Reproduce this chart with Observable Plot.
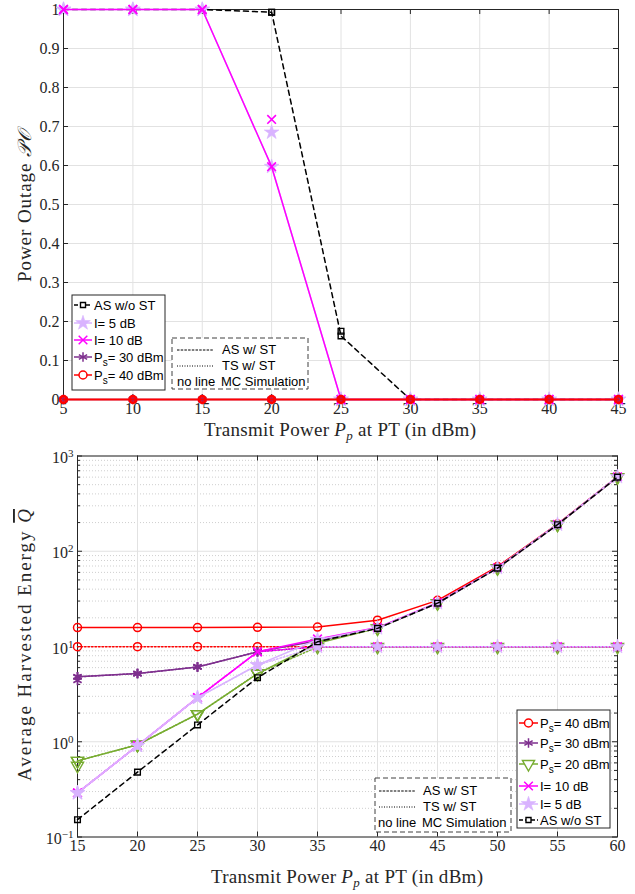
<!DOCTYPE html>
<html><head><meta charset="utf-8">
<script src="https://cdn.jsdelivr.net/npm/d3@7"></script>
<script src="https://cdn.jsdelivr.net/npm/@observablehq/plot@0.6"></script>
<style>body{margin:0;background:#fff} #c svg{display:block}</style>
</head><body><div id="c"></div>
<script>
// ---------- data: top panel (Power Outage) ----------
const xTop = [5,10,15,20,25,30,35,40,45];
const topAsWoST    = [1,1,1,0.993,0.163,0,0,0,0];
const topAsWoSTSim = [1,1,1,0.993,0.175,0,0,0,0];
const topI5        = [1,1,1,0.597,0,0,0,0,0];
const topI5Sim     = [1,1,1,0.685,0,0,0,0,0];
const topI10       = [1,1,1,0.597,0,0,0,0,0];
const topI10Sim    = [1,1,1,0.718,0,0,0,0,0];
const topPs30      = [0,0,0,0,0,0,0,0,0];
const topPs40      = [0,0,0,0,0,0,0,0,0];
const topYTicks  = [0,0.1,0.2,0.3,0.4,0.5,0.6,0.7,0.8,0.9,1];
const topYLabels = ["0","0.1","0.2","0.3","0.4","0.5","0.6","0.7","0.8","0.9","1"];

// ---------- data: bottom panel (Average Harvested Energy) ----------
const xBot = [15,20,25,30,35,40,45,50,55,60];
const botPs40   = [15.8,15.8,15.8,15.9,16.0,18.9,30.5,69,193,606];
const botPs40TS = [9.95,9.95,9.95,9.95,9.95,9.95,9.95,9.95,9.95,9.95];
const botPs30   = [4.8,5.2,6.1,8.8,11.5,15.6,28.6,67,191,602];
const botPs30TS = [4.8,5.2,6.1,8.8,9.95,9.95,9.95,9.95,9.95,9.95];
const botPs30Sim= [4.4,5.2,6.1,8.8,11.5,15.6,28.6,67,191,602];
const botPs20   = [0.63,0.93,1.95,5.2,10.8,15.5,28.5,66.5,190,600];
const botPs20TS = [0.63,0.93,1.95,5.2,9.9,9.9,9.9,9.9,9.9,9.9];
const botPs20Sim= [0.56,0.93,1.95,5.2,10.8,15.5,28.5,66.5,190,600];
const botI10    = [0.29,0.91,2.9,8.8,12.0,15.8,28.8,67,191,604];
const botI10TS  = [0.29,0.91,2.9,8.8,9.95,9.95,9.95,9.95,9.95,9.95];
const botI5     = [0.29,0.91,2.9,6.4,11.8,15.6,28.6,67,191,604];
const botI5TS   = [0.29,0.91,2.9,6.4,9.95,9.95,9.95,9.95,9.95,9.95];
const botAsWoST = [0.152,0.48,1.5,4.7,11.2,15.5,28.5,66.5,190,600];
const botYTicks = [0.1,1,10,100,1000];
const botYExp   = ["\u22121","0","1","2","3"];

// ---------- styles ----------
const C = {ps40:"#ff0000", ps30:"#7e2f8e", ps20:"#77ac30", i10:"#ff00ff", i5:"#d9b3ff", as:"#000000"};
const AX = "#262626", GRID = "#e2e2e2";
const SERIF = "'Liberation Serif', serif", SANS = "'Liberation Sans', Arial, sans-serif";

const triDown = {draw(ctx, size){ const y = -Math.sqrt(size/(Math.sqrt(3)*3)); ctx.moveTo(0,-y*2); ctx.lineTo(-Math.sqrt(3)*y,y); ctx.lineTo(Math.sqrt(3)*y,y); ctx.closePath(); }};

const sym = {
  as:  {symbol:"square", r:3.2, fill:"none", stroke:C.as, strokeWidth:1.4},
  i5:  {symbol:"star", r:4.6, fill:C.i5, stroke:C.i5, strokeWidth:0.6},
  i10: {symbol:"times", r:4, fill:"none", stroke:C.i10, strokeWidth:1.6},
  ps30:{symbol:"asterisk", r:4.5, fill:"none", stroke:C.ps30, strokeWidth:1.8},
  ps40:{symbol:"circle", r:4, fill:"none", stroke:C.ps40, strokeWidth:1.5},
  ps40top:{symbol:"circle", r:3.3, fill:"none", stroke:C.ps40, strokeWidth:2.8},
  ps20:{symbol:triDown, r:4.5, fill:"none", stroke:C.ps20, strokeWidth:1.4}
};

function series(xs, ys, color, dash, mk, width=1.5) {
  const out = [];
  if (color) out.push(Plot.line(xs, {x: d=>d, y: (d,i)=>ys[i], stroke: color, strokeWidth: width, strokeDasharray: dash}));
  if (mk) out.push(Plot.dot(xs, {x: d=>d, y: (d,i)=>ys[i], ...mk}));
  return out;
}

// ---------- top chart ----------
const tW = 635, tH = 440;
const tk = 5;
const xLenT = (45-5)/(tW-63-17)*tk, yLenT = 1/(tH-9-41)*tk;
const topPlot = Plot.plot({
  width: tW, height: tH, marginTop: 9, marginBottom: 41, marginLeft: 63, marginRight: 17,
  x: {type:"linear", domain:[5,45], axis: null},
  y: {type:"linear", domain:[0,1], axis: null},
  style: {fontFamily: SERIF, fontSize: "16px", color: AX, background: "#fff", overflow: "visible"},
  marks: [
    Plot.ruleX(xTop, {x: d=>d, stroke: GRID, strokeWidth: 1}),
    Plot.ruleY(topYTicks, {y: d=>d, stroke: GRID, strokeWidth: 1}),
    Plot.text(xTop, {x: d=>d, frameAnchor: "bottom", dy: 14, text: d=>String(d), fill: AX}),
    Plot.text(topYTicks, {y: d=>d, frameAnchor: "left", textAnchor: "end", dx: -4, text: (d,i)=>topYLabels[i], fill: AX}),
    Plot.ruleX(xTop, {x: d=>d, y1: 0, y2: yLenT, stroke: AX}),
    Plot.ruleX(xTop, {x: d=>d, y1: 1-yLenT, y2: 1, stroke: AX}),
    Plot.ruleY(topYTicks, {y: d=>d, x1: 5, x2: 5+xLenT, stroke: AX}),
    Plot.ruleY(topYTicks, {y: d=>d, x1: 45-xLenT, x2: 45, stroke: AX}),
    Plot.frame({stroke: AX, strokeWidth: 1}),
    ...series(xTop, topAsWoST, C.as, "5,4", sym.as),
    ...series(xTop, topAsWoSTSim, null, null, sym.as),
    ...series(xTop, topI5, C.i5, null, sym.i5),
    ...series(xTop, topI5Sim, null, null, sym.i5),
    ...series(xTop, topI10, C.i10, null, sym.i10),
    ...series(xTop, topI10Sim, null, null, sym.i10),
    ...series(xTop, topPs30, C.ps30, null, sym.ps30),
    ...series(xTop, topPs40, C.ps40, null, sym.ps40top, 2.2)
  ]
});

// ---------- bottom chart ----------
const bW = 635, bH = 454, bmT = 15.5, bmB = 57.5, bmL = 77, bmR = 18;
const decPx = (bH-bmT-bmB)/4;
const xLenB = (60-15)/(bW-bmL-bmR)*tk;
const minor = [];
for (const e of [0.1,1,10,100]) for (let k=2;k<=9;k++) minor.push(+(e*k).toPrecision(3));
const fB = Math.pow(10, tk/decPx);
const botPlot = Plot.plot({
  width: bW, height: bH, marginTop: bmT, marginBottom: bmB, marginLeft: bmL, marginRight: bmR,
  x: {type:"linear", domain:[15,60], axis: null},
  y: {type:"log", domain:[0.1,1000], axis: null},
  style: {fontFamily: SERIF, fontSize: "16px", color: AX, background: "#fff", overflow: "visible"},
  marks: [
    Plot.ruleY(minor, {y: d=>d, stroke: "#cfcfcf", strokeWidth: 1, strokeDasharray: "1,2"}),
    Plot.ruleX(xBot, {x: d=>d, stroke: GRID, strokeWidth: 1}),
    Plot.ruleY(botYTicks, {y: d=>d, stroke: GRID, strokeWidth: 1}),
    Plot.text(xBot, {x: d=>d, frameAnchor: "bottom", dy: 14, text: d=>String(d), fill: AX}),
    Plot.text(botYTicks, {y: d=>d, frameAnchor: "left", textAnchor: "end", dx: -4, dy: 2, text: (d,i)=>botYExp[i], fill: AX}),
    Plot.ruleX(xBot, {x: d=>d, y1: 0.1, y2: 0.1*fB, stroke: AX}),
    Plot.ruleX(xBot, {x: d=>d, y1: 1000/fB, y2: 1000, stroke: AX}),
    Plot.ruleY(botYTicks, {y: d=>d, x1: 15, x2: 15+xLenB, stroke: AX}),
    Plot.ruleY(botYTicks, {y: d=>d, x1: 60-xLenB, x2: 60, stroke: AX}),
    Plot.ruleY(minor, {y: d=>d, x1: 15, x2: 15+xLenB*0.6, stroke: AX}),
    Plot.ruleY(minor, {y: d=>d, x1: 60-xLenB*0.6, x2: 60, stroke: AX}),
    Plot.frame({stroke: AX, strokeWidth: 1}),
    ...series(xBot, botPs40TS, C.ps40, "1.5,2", sym.ps40),
    ...series(xBot, botPs40, C.ps40, null, sym.ps40),
    ...series(xBot, botPs30TS, C.ps30, "1.5,2", sym.ps30),
    ...series(xBot, botPs30, C.ps30, null, sym.ps30),
    ...series(xBot, botPs30Sim, null, null, sym.ps30),
    ...series(xBot, botPs20TS, C.ps20, "1.5,2", sym.ps20),
    ...series(xBot, botPs20, C.ps20, null, sym.ps20),
    ...series(xBot, botPs20Sim, null, null, sym.ps20),
    ...series(xBot, botI10TS, C.i10, "1.5,2", sym.i10),
    ...series(xBot, botI10, C.i10, null, sym.i10),
    ...series(xBot, botI5TS, C.i5, "1.5,2", sym.i5),
    ...series(xBot, botI5, C.i5, null, sym.i5),
    ...series(xBot, botAsWoST, C.as, "5,4", sym.as)
  ]
});

const root = document.getElementById("c");
root.appendChild(topPlot);
root.appendChild(botPlot);

// superscript exponents on log axis labels (10^k)
d3.select(botPlot).selectAll("text").filter(function(){ return botYExp.includes(this.textContent); }).each(function(){
  const t = d3.select(this); const e = t.text(); t.text("");
  t.append("tspan").text("10");
  t.append("tspan").attr("dy","-0.55em").attr("font-size","11px").text(e);
});

// axis titles
function xTitle(svg, cx, y) {
  const t = d3.select(svg).append("text").attr("x",cx).attr("y",y).attr("text-anchor","middle")
    .attr("font-family",SERIF).attr("font-size","19px").attr("fill",AX)
    .attr("textLength",272).attr("lengthAdjust","spacing");
  t.append("tspan").text("Transmit Power ");
  t.append("tspan").attr("font-style","italic").text("P");
  t.append("tspan").attr("font-style","italic").attr("font-size","13px").attr("dy","4").text("p");
  t.append("tspan").attr("dy","-4").text(" at PT (in dBm)");
}
xTitle(topPlot, 340, 436);
xTitle(botPlot, 347, 443);
{
  const t = d3.select(topPlot).append("text").attr("transform","translate(31,206) rotate(-90)")
    .attr("text-anchor","middle").attr("font-family",SERIF).attr("font-size","19px").attr("fill",AX)
    .attr("textLength",152).attr("lengthAdjust","spacing");
  t.append("tspan").text("Power Outage ");
  t.append("tspan").attr("font-style","italic").text("\u{1D4AB}\u{1D4AA}");
}
{
  const t = d3.select(botPlot).append("text")
    .attr("transform","translate(31,"+(645-440)+") rotate(-90)")
    .attr("text-anchor","middle").attr("font-family",SERIF).attr("font-size","19px").attr("fill",AX)
    .attr("textLength",272).attr("lengthAdjust","spacing");
  t.append("tspan").text("Average Harvested Energy ");
  t.append("tspan").attr("font-style","italic").attr("text-decoration","overline").text("Q");
}

// legends
function legendBox(svg, x, y, w, h, dashed) {
  d3.select(svg).append("rect").attr("x",x).attr("y",y).attr("width",w).attr("height",h)
    .attr("fill","#fff").attr("stroke",dashed?"#404040":AX).attr("stroke-width",1)
    .attr("stroke-dasharray",dashed?"5,3":null);
}
function legendText(svg, x, y, parts) {
  const t = d3.select(svg).append("text").attr("x",x).attr("y",y).attr("dy","0.35em")
    .attr("text-anchor","start")
    .attr("font-family",SANS).attr("font-size","13px").attr("fill","#000");
  for (const p of parts) {
    if (typeof p === "string") t.append("tspan").text(p);
    else t.append("tspan").attr("dy",p.dy).attr("font-size",p.size||null).text(p.t);
  }
}
function legendSample(svg, x1, x2, y, color, dash, mk) {
  const g = d3.select(svg);
  g.append("line").attr("x1",x1).attr("x2",x2).attr("y1",y).attr("y2",y)
    .attr("stroke",color).attr("stroke-width",1.5).attr("stroke-dasharray",dash);
  if (mk) {
    const type = mk.symbol === "square" ? d3.symbolSquare2 : mk.symbol === "star" ? d3.symbolStar
      : mk.symbol === "times" ? d3.symbolTimes : mk.symbol === "asterisk" ? d3.symbolAsterisk
      : mk.symbol === "circle" ? d3.symbolCircle : mk.symbol;
    g.append("path").attr("d", d3.symbol(type, Math.PI*mk.r*mk.r)())
      .attr("transform",`translate(${(x1+x2)/2},${y})`)
      .attr("fill", mk.fill === "none" ? "#fff" : mk.fill).attr("stroke", mk.stroke).attr("stroke-width", Math.min(mk.strokeWidth,1.5));
  }
}
const psLabel = v => ["P", {t:"s", dy:"4", size:"10px"}, {t:"= "+v+" dBm", dy:"-4"}];

// top legend
{
  const s = topPlot;
  legendBox(s, 72, 295, 93, 95, false);
  const rows = [
    {y:305, c:C.as, d:"4,2", m:sym.as, t:["AS w/o ST"]},
    {y:323, c:C.i5, d:null, m:sym.i5, t:["I= 5 dB"]},
    {y:340, c:C.i10, d:null, m:sym.i10, t:["I= 10 dB"]},
    {y:357, c:C.ps30, d:null, m:sym.ps30, t:psLabel(30)},
    {y:375, c:C.ps40, d:null, m:sym.ps40, t:psLabel(40)}
  ];
  for (const r of rows) { legendSample(s, 74, 92, r.y, r.c, r.d, r.m); legendText(s, 94, r.y, r.t); }
  legendBox(s, 172, 338, 136, 51, true);
  const ln = d3.select(s);
  ln.append("line").attr("x1",177).attr("x2",213).attr("y1",350).attr("y2",350).attr("stroke","#000").attr("stroke-dasharray","2.5,1.2");
  ln.append("line").attr("x1",177).attr("x2",213).attr("y1",366).attr("y2",366).attr("stroke","#000").attr("stroke-dasharray","1,1.5");
  legendText(s, 222, 349, ["AS w/ ST"]);
  legendText(s, 222, 365, ["TS w/ ST"]);
  legendText(s, 177, 381, ["no line"]);
  legendText(s, 221, 381, ["MC Simulation"]);
}
// bottom legend
{
  const s = botPlot, o = 440;
  legendBox(s, 517, 710-o, 93, 118, false);
  const rows = [
    {y:723, c:C.ps40, m:sym.ps40, t:psLabel(40)},
    {y:743, c:C.ps30, m:sym.ps30, t:psLabel(30)},
    {y:764, c:C.ps20, m:sym.ps20, t:psLabel(20)},
    {y:786, c:C.i10, m:sym.i10, t:["I= 10 dB"]},
    {y:804, c:C.i5, m:sym.i5, t:["I= 5 dB"]},
    {y:820, c:C.as, m:sym.as, d:"4,2", t:["AS w/o ST"]}
  ];
  for (const r of rows) { legendSample(s, 519, 538, r.y-o, r.c, r.d||null, r.m); legendText(s, 540, r.y-o, r.t); }
  legendBox(s, 375, 778-o, 136, 54, true);
  const ln = d3.select(s);
  ln.append("line").attr("x1",379).attr("x2",416).attr("y1",791-o).attr("y2",791-o).attr("stroke","#000").attr("stroke-dasharray","2.5,1.2");
  ln.append("line").attr("x1",379).attr("x2",416).attr("y1",807-o).attr("y2",807-o).attr("stroke","#000").attr("stroke-dasharray","1,1.5");
  legendText(s, 423, 790-o, ["AS w/ ST"]);
  legendText(s, 423, 806-o, ["TS w/ ST"]);
  legendText(s, 378, 822-o, ["no line"]);
  legendText(s, 422, 822-o, ["MC Simulation"]);
}
</script></body></html>
